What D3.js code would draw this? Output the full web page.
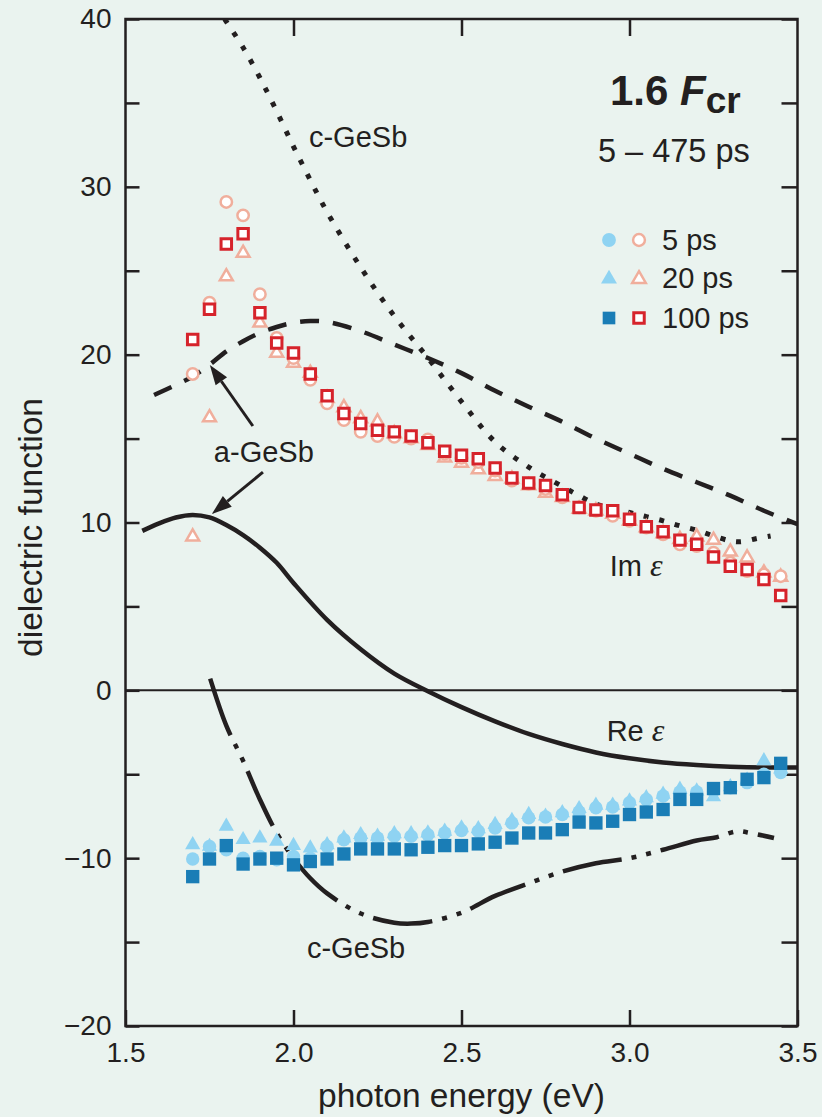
<!DOCTYPE html>
<html><head><meta charset="utf-8">
<script src="https://cdn.jsdelivr.net/npm/d3@7"></script>
<style>html,body{margin:0;padding:0;background:#eaf3ef;} svg{display:block;}</style>
</head><body><svg id="c" width="822" height="1117"></svg>
<script>
// ---------- data ----------
const energies = [1.70,1.75,1.80,1.85,1.90,1.95,2.00,2.05,2.10,2.15,2.20,2.25,2.30,2.35,2.40,2.45,2.50,2.55,2.60,2.65,2.70,2.75,2.80,2.85,2.90,2.95,3.00,3.05,3.10,3.15,3.20,3.25,3.30,3.35,3.40,3.45];
const im5ps   = [18.85,23.1,29.1,28.3,23.6,21.0,19.8,18.5,17.1,16.1,15.4,15.15,15.1,15.0,14.95,14.1,13.85,13.6,13.1,12.5,12.3,12.0,11.5,10.9,10.7,10.4,10.1,9.7,9.3,8.7,8.6,8.2,7.6,7.1,6.9,6.8];
const im20ps  = [9.15,16.25,24.65,26.05,21.9,20.1,19.5,18.9,17.4,16.85,16.2,16.0,15.3,15.0,14.6,13.85,13.55,13.15,12.75,12.6,12.2,11.75,11.5,10.8,10.7,10.5,10.1,9.7,9.35,9.0,9.15,8.95,8.25,7.9,7.0,6.75];
const im100ps = [20.9,22.7,26.6,27.2,22.5,20.7,20.1,18.85,17.55,16.5,15.9,15.5,15.4,15.15,14.75,14.25,14.0,13.8,13.25,12.65,12.35,12.2,11.65,10.9,10.75,10.7,10.2,9.75,9.45,8.95,8.7,7.95,7.4,7.2,6.6,5.65];
const re5ps   = [-10.05,-9.3,-9.5,-10.0,-9.9,-10.1,-9.9,-10.0,-9.3,-8.9,-8.8,-8.8,-8.7,-8.7,-8.6,-8.5,-8.35,-8.4,-8.2,-7.9,-7.6,-7.55,-7.4,-7.25,-7.0,-6.95,-6.7,-6.5,-6.3,-6.05,-6.05,-6.0,-5.8,-5.5,-5.0,-4.9];
const re20ps  = [-9.2,-9.3,-8.1,-8.9,-8.8,-9.0,-9.25,-9.4,-9.2,-8.8,-8.6,-8.7,-8.55,-8.55,-8.5,-8.4,-8.2,-8.25,-8.0,-7.75,-7.4,-7.5,-7.3,-7.05,-6.85,-6.85,-6.6,-6.4,-6.2,-5.9,-6.0,-6.35,-5.75,-5.35,-4.2,-4.7];
const re100ps = [-11.1,-10.05,-9.25,-10.35,-10.05,-10.0,-10.4,-10.2,-10.05,-9.75,-9.45,-9.45,-9.45,-9.5,-9.35,-9.25,-9.25,-9.15,-9.05,-8.8,-8.5,-8.5,-8.3,-7.85,-7.9,-7.8,-7.4,-7.25,-7.1,-6.5,-6.5,-5.85,-5.8,-5.3,-5.2,-4.35];

// reference curves
const aReE = [1.55,1.6,1.65,1.7,1.75,1.8,1.85,1.9,1.95,2.0,2.1,2.2,2.3,2.4,2.5,2.6,2.7,2.8,2.9,3.0,3.1,3.2,3.3,3.4,3.5];
const aReV = [9.5,9.95,10.3,10.45,10.3,9.85,9.25,8.5,7.6,6.4,4.2,2.45,1.0,-0.05,-1.0,-1.85,-2.6,-3.2,-3.7,-4.05,-4.3,-4.45,-4.55,-4.6,-4.6];
const aImE = [1.585,1.65,1.7,1.75,1.8,1.85,1.9,1.95,2.0,2.05,2.1,2.2,2.3,2.4,2.5,2.6,2.7,2.8,2.9,3.0,3.1,3.2,3.3,3.4,3.5];
const aImV = [17.6,18.2,18.7,19.4,20.2,20.8,21.3,21.65,21.9,22.0,21.95,21.4,20.6,19.8,18.9,17.85,16.9,16.0,15.0,14.1,13.2,12.4,11.6,10.7,9.9];
const cImE = [1.795,1.85,1.9,1.95,2.0,2.05,2.1,2.2,2.3,2.4,2.5,2.6,2.7,2.8,2.85,2.9,2.95,3.0,3.05,3.1,3.15,3.2,3.25,3.3,3.33,3.38,3.42];
const cImV = [40,38.3,36.5,34.5,32.4,30.4,28.5,25.2,22.3,19.8,17.2,14.8,13.3,12.15,11.6,11.1,10.85,10.6,10.35,10.1,9.8,9.55,9.2,8.9,8.85,9.05,9.2];
const cReE = [1.752,1.8,1.85,1.9,1.95,2.0,2.05,2.1,2.2,2.3,2.35,2.4,2.5,2.6,2.7,2.8,2.9,3.0,3.1,3.2,3.26,3.32,3.36,3.43];
const cReV = [0.7,-2.1,-4.2,-6.5,-8.5,-10.0,-11.2,-12.1,-13.3,-13.85,-13.9,-13.8,-13.25,-12.25,-11.5,-10.8,-10.3,-10.0,-9.5,-8.95,-8.75,-8.4,-8.5,-8.8];

// axes
const xTickVals = [1.5,2.0,2.5,3.0,3.5];
const xTickLabels = ["1.5","2.0","2.5","3.0","3.5"];
const yTickVals = [-20,-15,-10,-5,0,5,10,15,20,25,30,35,40];
const yTickLabels = ["\u221220","","\u221210","","0","","10","","20","","30","","40"];

// annotations (data coords)
const arrows = [ {from:[1.879,15.75], to:[1.751,19.39]}, {from:[1.909,13.0], to:[1.757,10.5]} ];
const legendLabels = ["5 ps","20 ps","100 ps"];

// ---------- drawing ----------
const W=822, H=1117;
const ink = "#231f20";
const BG = "#eaf3ef";
const cLightBlue = "#8fd3f2", cDarkBlue = "#1a7db6", cSalmon = "#f0ae9c", cRed = "#d6232b";
const FONT = "'Liberation Sans', Arial, Helvetica, sans-serif";

const svg = d3.select("#c");
svg.append("rect").attr("width",W).attr("height",H).attr("fill",BG);

const x = d3.scaleLinear().domain([1.5,3.5]).range([125.5,797.5]);
const y = d3.scaleLinear().domain([-20,40]).range([1026,19]);

// clip
svg.append("clipPath").attr("id","plot").append("rect")
  .attr("x",x(1.5)).attr("y",y(40)).attr("width",x(3.5)-x(1.5)).attr("height",y(-20)-y(40));

// axes
function styleAxis(g){
  g.select(".domain").remove();
  g.selectAll(".tick line").attr("stroke",ink).attr("stroke-width",2.5);
  g.selectAll(".tick text").attr("fill",ink).attr("font-family",FONT).attr("font-size",28);
}
const gL = svg.append("g").attr("transform",`translate(${x(1.5)},0)`)
  .call(d3.axisLeft(y).tickValues(yTickVals).tickSizeInner(-14).tickSizeOuter(0).tickPadding(14)
  .tickFormat((d,i)=>yTickLabels[i]));
styleAxis(gL);
const gR = svg.append("g").attr("transform",`translate(${x(3.5)},0)`)
  .call(d3.axisRight(y).tickValues(yTickVals).tickSizeInner(-16).tickSizeOuter(0).tickFormat(()=>""));
styleAxis(gR);
const gB = svg.append("g").attr("transform",`translate(0,${y(-20)})`)
  .call(d3.axisBottom(x).tickValues(xTickVals).tickSizeInner(-16).tickSizeOuter(0).tickPadding(16)
  .tickFormat((d,i)=>xTickLabels[i]));
styleAxis(gB);
const gT = svg.append("g").attr("transform",`translate(0,${y(40)})`)
  .call(d3.axisTop(x).tickValues(xTickVals.slice(1,-1)).tickSizeInner(-17).tickSizeOuter(0).tickFormat(()=>""));
styleAxis(gT);

svg.append("rect").attr("x",x(1.5)).attr("y",y(40)).attr("width",x(3.5)-x(1.5)).attr("height",y(-20)-y(40))
  .attr("fill","none").attr("stroke",ink).attr("stroke-width",2.5);

// zero line
svg.append("line").attr("x1",x(1.5)).attr("x2",x(3.5)).attr("y1",y(0)).attr("y2",y(0))
  .attr("stroke",ink).attr("stroke-width",2);

// axis titles
svg.append("text").attr("x",(x(1.5)+x(3.5))/2).attr("y",1107).attr("text-anchor","middle")
  .attr("font-family",FONT).attr("font-size",33.5).attr("fill",ink).text("photon energy (eV)");
svg.append("text").attr("transform",`translate(42,${y(10)+5}) rotate(-90)`).attr("text-anchor","middle")
  .attr("font-family",FONT).attr("font-size",33.5).attr("fill",ink).text("dielectric function");

// curves
const gC = svg.append("g").attr("clip-path","url(#plot)");
const line = d3.line().x(d=>x(d[0])).y(d=>y(d[1])).curve(d3.curveCatmullRom.alpha(0.5));
function curve(E,V,dash,w){
  gC.append("path").datum(E.map((e,i)=>[e,V[i]])).attr("d",line)
    .attr("fill","none").attr("stroke",ink).attr("stroke-width",w)
    .attr("stroke-dasharray",dash).attr("stroke-linecap","butt");
}
curve(aReE,aReV,null,4.5);
curve(aImE,aImV,"19,14",4.5);
curve(cImE,cImV,"5,11",5);
curve(cReE,cReV,"60,10,5,10,5,10",4.5);

// markers
const gM = svg.append("g");
const sym = (type,size)=>d3.symbol().type(type).size(size)();
function series(vals,type,size,fill,stroke,sw){
  gM.append("g").selectAll("path").data(energies.map((e,i)=>[e,vals[i]])).join("path")
    .attr("d",sym(type,size)).attr("transform",d=>`translate(${x(d[0])},${y(d[1])})`)
    .attr("fill",fill).attr("stroke",stroke||"none").attr("stroke-width",sw||0);
}
// Re (filled)
series(re20ps, d3.symbolTriangle, 100, cLightBlue);
series(re5ps, d3.symbolCircle, 141, cLightBlue);
series(re100ps, d3.symbolSquare, 178, cDarkBlue);
// Im (open)
series(im20ps, d3.symbolTriangle, 72, "#ffffff", cSalmon, 2.5);
series(im5ps, d3.symbolCircle, 102, "#ffffff", cSalmon, 2.5);
series(im100ps, d3.symbolSquare, 110, "#ffffff", cRed, 3);

// arrows
arrows.forEach(a=>{
  const x1=x(a.from[0]), y1=y(a.from[1]), x2=x(a.to[0]), y2=y(a.to[1]);
  const ang=Math.atan2(y2-y1,x2-x1), L=20, hw=7;
  const bx=x2-L*Math.cos(ang), by=y2-L*Math.sin(ang);
  svg.append("line").attr("x1",x1).attr("y1",y1).attr("x2",bx).attr("y2",by)
    .attr("stroke",ink).attr("stroke-width",3);
  const px=-Math.sin(ang)*hw, py=Math.cos(ang)*hw;
  svg.append("path").attr("d",`M${x2},${y2}L${bx+px},${by+py}L${bx-px},${by-py}Z`).attr("fill",ink);
});

// labels
function label(t,xv,yv){
  return svg.append("text").attr("x",x(xv)).attr("y",y(yv)).attr("font-family",FONT)
    .attr("font-size",29).attr("fill",ink).text(t);
}
label("c-GeSb",2.046,32.38);
label("a-GeSb",1.763,13.6);
label("c-GeSb",2.04,-15.95);
function epsLabel(t,xv,yv){
  const tx = svg.append("text").attr("x",x(xv)).attr("y",y(yv)).attr("font-family",FONT)
    .attr("font-size",29).attr("fill",ink);
  tx.append("tspan").text(t+" ");
  tx.append("tspan").attr("font-family","'Liberation Serif','Times New Roman',serif").attr("font-style","italic")
    .attr("font-size",32).text("\u03b5");
}
epsLabel("Im",2.941,6.81);
epsLabel("Re",2.932,-3.0);

// title
const tt = svg.append("text").attr("x",610).attr("y",105).attr("font-family",FONT).attr("font-weight","bold")
  .attr("font-size",42).attr("fill",ink);
tt.append("tspan").text("1.6 ");
tt.append("tspan").attr("font-style","italic").text("F");
tt.append("tspan").attr("font-size",37).attr("dy",8).text("cr");
svg.append("text").attr("x",598).attr("y",162).attr("font-family",FONT).attr("font-size",32.5)
  .attr("fill",ink).text("5 \u2013 475 ps");

// legend
const legRows = [
  {filled:[d3.symbolCircle,150,cLightBlue], open:[d3.symbolCircle,110,cSalmon,2.5], cy:240, ty:250},
  {filled:[d3.symbolTriangle,110,cLightBlue], open:[d3.symbolTriangle,80,cSalmon,2.5], cy:279, ty:288},
  {filled:[d3.symbolSquare,160,cDarkBlue], open:[d3.symbolSquare,110,cRed,3], cy:318, ty:328}
];
legRows.forEach((r,i)=>{
  svg.append("path").attr("d",sym(r.filled[0],r.filled[1])).attr("transform",`translate(609,${r.cy})`).attr("fill",r.filled[2]);
  svg.append("path").attr("d",sym(r.open[0],r.open[1])).attr("transform",`translate(639,${r.cy})`)
    .attr("fill","#fff").attr("stroke",r.open[2]).attr("stroke-width",r.open[3]);
  svg.append("text").attr("x",662).attr("y",r.ty).attr("font-family",FONT).attr("font-size",29)
    .attr("fill",ink).text(legendLabels[i]);
});
</script></body></html>
